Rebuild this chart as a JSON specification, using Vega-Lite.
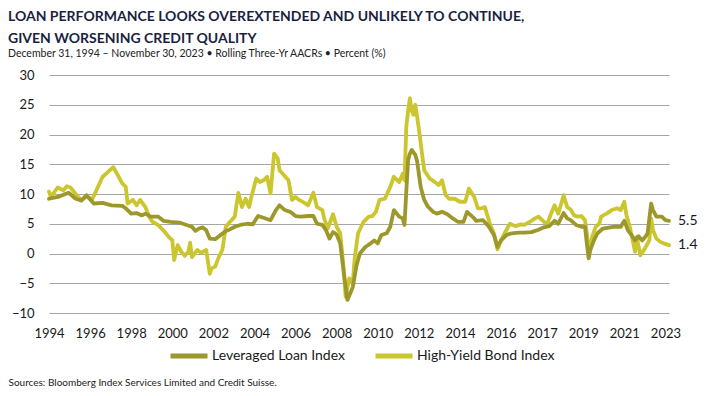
{
  "$schema": "https://vega.github.io/schema/vega-lite/v6.json",
  "width": 620,
  "height": 238,
  "autosize": {"type": "none"},
  "padding": {"left": 49, "top": 75, "right": 58, "bottom": 83},
  "background": "white",
  "config": {
    "view": {"stroke": null},
    "font": "Lato",
    "axis": {"labelFont": "Lato", "labelColor": "#1a1a1a", "titleFont": "Lato"},
    "legend": {"labelFont": "Lato"}
  },
  "title": {
    "text": ["LOAN PERFORMANCE LOOKS OVEREXTENDED AND UNLIKELY TO CONTINUE,", "GIVEN WORSENING CREDIT QUALITY"],
    "subtitle": "December 31, 1994 – November 30, 2023 • Rolling Three-Yr AACRs • Percent (%)",
    "anchor": "start",
    "frame": "group",
    "dx": -41,
    "offset": 10,
    "font": "Lato",
    "fontSize": 14,
    "fontWeight": "bold",
    "color": "#1b1f3f",
    "lineHeight": 22,
    "subtitleFont": "Lato",
    "subtitleFontSize": 10.5,
    "subtitleColor": "#222222",
    "subtitlePadding": 3
  },
  "datasets": {
    "hy": [
      {"date": "1994-12", "value": 10.4}, {"date": "1995-01", "value": 9.5}, {"date": "1995-05", "value": 11.1},
      {"date": "1995-08", "value": 10.6}, {"date": "1995-10", "value": 11.3}, {"date": "1995-12", "value": 11.1},
      {"date": "1996-03", "value": 10.0}, {"date": "1996-06", "value": 8.9}, {"date": "1996-09", "value": 9.6},
      {"date": "1996-12", "value": 9.0}, {"date": "1997-03", "value": 10.9}, {"date": "1997-06", "value": 12.9},
      {"date": "1997-08", "value": 13.4}, {"date": "1997-10", "value": 14.0}, {"date": "1997-12", "value": 14.5},
      {"date": "1998-02", "value": 13.4}, {"date": "1998-05", "value": 11.8}, {"date": "1998-07", "value": 11.2},
      {"date": "1998-08", "value": 8.4}, {"date": "1998-11", "value": 9.0}, {"date": "1999-01", "value": 8.1},
      {"date": "1999-03", "value": 9.0}, {"date": "1999-06", "value": 7.8}, {"date": "1999-08", "value": 6.2},
      {"date": "1999-10", "value": 5.3}, {"date": "2000-01", "value": 4.8}, {"date": "2000-04", "value": 3.9},
      {"date": "2000-07", "value": 2.8}, {"date": "2000-09", "value": 2.2}, {"date": "2000-10", "value": -1.1},
      {"date": "2000-12", "value": 1.4}, {"date": "2001-02", "value": 0.3}, {"date": "2001-04", "value": -0.4},
      {"date": "2001-06", "value": 0.3}, {"date": "2001-07", "value": 1.8}, {"date": "2001-08", "value": -0.6},
      {"date": "2001-11", "value": 0.6}, {"date": "2002-01", "value": 0.1}, {"date": "2002-04", "value": 0.6},
      {"date": "2002-06", "value": -3.4}, {"date": "2002-07", "value": -2.5}, {"date": "2002-09", "value": -2.2},
      {"date": "2002-11", "value": -0.6}, {"date": "2003-01", "value": 0.6}, {"date": "2003-03", "value": 4.5},
      {"date": "2003-05", "value": 5.2}, {"date": "2003-08", "value": 6.2}, {"date": "2003-10", "value": 10.2},
      {"date": "2003-12", "value": 7.8}, {"date": "2004-02", "value": 9.2}, {"date": "2004-04", "value": 7.8},
      {"date": "2004-05", "value": 9.2}, {"date": "2004-08", "value": 12.6}, {"date": "2004-10", "value": 12.0},
      {"date": "2004-12", "value": 12.3}, {"date": "2005-02", "value": 12.9}, {"date": "2005-04", "value": 10.1},
      {"date": "2005-06", "value": 16.8}, {"date": "2005-08", "value": 16.0}, {"date": "2005-09", "value": 14.0},
      {"date": "2005-12", "value": 13.0}, {"date": "2006-02", "value": 12.3}, {"date": "2006-04", "value": 9.0},
      {"date": "2006-06", "value": 9.5}, {"date": "2006-08", "value": 9.0}, {"date": "2006-11", "value": 8.5},
      {"date": "2007-01", "value": 8.1}, {"date": "2007-04", "value": 10.2}, {"date": "2007-06", "value": 7.8},
      {"date": "2007-09", "value": 7.3}, {"date": "2007-10", "value": 5.9}, {"date": "2007-12", "value": 4.2},
      {"date": "2008-03", "value": 6.6}, {"date": "2008-05", "value": 4.5}, {"date": "2008-07", "value": 3.4},
      {"date": "2008-09", "value": -2.8}, {"date": "2008-10", "value": -7.3}, {"date": "2008-12", "value": -4.2},
      {"date": "2009-02", "value": -5.0}, {"date": "2009-03", "value": -1.1}, {"date": "2009-05", "value": 3.4},
      {"date": "2009-08", "value": 5.3}, {"date": "2009-11", "value": 6.2}, {"date": "2010-01", "value": 6.3},
      {"date": "2010-03", "value": 7.0}, {"date": "2010-05", "value": 9.0}, {"date": "2010-08", "value": 9.2},
      {"date": "2010-11", "value": 11.2}, {"date": "2011-01", "value": 12.9}, {"date": "2011-04", "value": 12.0},
      {"date": "2011-06", "value": 13.4}, {"date": "2011-07", "value": 12.3}, {"date": "2011-08", "value": 21.3},
      {"date": "2011-09", "value": 24.0}, {"date": "2011-10", "value": 26.1}, {"date": "2011-11", "value": 24.0},
      {"date": "2011-12", "value": 23.3}, {"date": "2012-01", "value": 25.0}, {"date": "2012-03", "value": 21.0},
      {"date": "2012-05", "value": 16.3}, {"date": "2012-06", "value": 14.0}, {"date": "2012-09", "value": 12.6},
      {"date": "2012-12", "value": 12.0}, {"date": "2013-02", "value": 11.5}, {"date": "2013-04", "value": 12.3},
      {"date": "2013-06", "value": 9.8}, {"date": "2013-08", "value": 9.2}, {"date": "2013-11", "value": 9.2},
      {"date": "2014-02", "value": 8.7}, {"date": "2014-05", "value": 8.7}, {"date": "2014-07", "value": 10.9},
      {"date": "2014-10", "value": 9.5}, {"date": "2014-12", "value": 7.6}, {"date": "2015-02", "value": 7.6},
      {"date": "2015-04", "value": 7.8}, {"date": "2015-07", "value": 4.8}, {"date": "2015-09", "value": 3.4},
      {"date": "2015-11", "value": 0.7}, {"date": "2016-01", "value": 2.2}, {"date": "2016-03", "value": 3.4},
      {"date": "2016-06", "value": 5.0}, {"date": "2016-09", "value": 4.6}, {"date": "2016-12", "value": 4.9},
      {"date": "2017-02", "value": 4.8}, {"date": "2017-05", "value": 5.3}, {"date": "2017-08", "value": 5.9},
      {"date": "2017-10", "value": 6.2}, {"date": "2018-01", "value": 5.3}, {"date": "2018-03", "value": 5.0},
      {"date": "2018-05", "value": 6.7}, {"date": "2018-07", "value": 8.1}, {"date": "2018-09", "value": 6.7},
      {"date": "2018-11", "value": 8.7}, {"date": "2018-12", "value": 9.8}, {"date": "2019-02", "value": 7.8},
      {"date": "2019-04", "value": 7.4}, {"date": "2019-06", "value": 6.4}, {"date": "2019-08", "value": 6.2},
      {"date": "2019-10", "value": 6.3}, {"date": "2019-12", "value": 5.6}, {"date": "2020-01", "value": 3.4},
      {"date": "2020-02", "value": 0.3}, {"date": "2020-04", "value": 2.8}, {"date": "2020-06", "value": 4.5},
      {"date": "2020-08", "value": 5.0}, {"date": "2020-09", "value": 6.2}, {"date": "2020-12", "value": 6.7},
      {"date": "2021-03", "value": 7.3}, {"date": "2021-06", "value": 7.6}, {"date": "2021-08", "value": 7.3},
      {"date": "2021-10", "value": 8.7}, {"date": "2021-11", "value": 6.7}, {"date": "2022-01", "value": 4.5},
      {"date": "2022-02", "value": 3.1}, {"date": "2022-04", "value": 0.3}, {"date": "2022-05", "value": 2.8},
      {"date": "2022-07", "value": -0.3}, {"date": "2022-09", "value": 0.6}, {"date": "2022-10", "value": 1.1},
      {"date": "2022-12", "value": 2.2}, {"date": "2023-01", "value": 5.9}, {"date": "2023-02", "value": 3.9},
      {"date": "2023-04", "value": 2.5}, {"date": "2023-06", "value": 2.0}, {"date": "2023-08", "value": 1.7},
      {"date": "2023-11", "value": 1.4}
    ],
    "loan": [
      {"date": "1994-12", "value": 9.2}, {"date": "1995-05", "value": 9.5}, {"date": "1995-11", "value": 10.2},
      {"date": "1996-03", "value": 9.2}, {"date": "1996-06", "value": 8.9}, {"date": "1996-09", "value": 9.8},
      {"date": "1997-01", "value": 8.4}, {"date": "1997-06", "value": 8.5}, {"date": "1997-11", "value": 8.1},
      {"date": "1998-05", "value": 8.0}, {"date": "1998-07", "value": 7.6}, {"date": "1998-10", "value": 6.7},
      {"date": "1999-01", "value": 6.8}, {"date": "1999-04", "value": 6.4}, {"date": "1999-06", "value": 6.7},
      {"date": "1999-09", "value": 6.2}, {"date": "2000-01", "value": 6.2}, {"date": "2000-04", "value": 5.5},
      {"date": "2000-08", "value": 5.3}, {"date": "2001-01", "value": 5.2}, {"date": "2001-05", "value": 4.8},
      {"date": "2001-08", "value": 4.5}, {"date": "2001-10", "value": 3.8}, {"date": "2001-12", "value": 4.2},
      {"date": "2002-02", "value": 4.4}, {"date": "2002-04", "value": 3.9}, {"date": "2002-06", "value": 2.5},
      {"date": "2002-09", "value": 2.4}, {"date": "2002-12", "value": 3.1}, {"date": "2003-03", "value": 3.8},
      {"date": "2003-05", "value": 4.0}, {"date": "2003-08", "value": 4.5}, {"date": "2003-11", "value": 4.8},
      {"date": "2004-03", "value": 5.0}, {"date": "2004-06", "value": 4.9}, {"date": "2004-09", "value": 6.3},
      {"date": "2004-12", "value": 6.0}, {"date": "2005-04", "value": 5.6}, {"date": "2005-07", "value": 7.3},
      {"date": "2005-09", "value": 8.1}, {"date": "2005-12", "value": 7.3}, {"date": "2006-03", "value": 7.0},
      {"date": "2006-06", "value": 6.3}, {"date": "2006-09", "value": 6.2}, {"date": "2007-01", "value": 6.3},
      {"date": "2007-04", "value": 6.3}, {"date": "2007-06", "value": 5.0}, {"date": "2007-09", "value": 4.8},
      {"date": "2007-11", "value": 3.9}, {"date": "2008-01", "value": 2.5}, {"date": "2008-03", "value": 3.6},
      {"date": "2008-05", "value": 3.2}, {"date": "2008-07", "value": 1.7}, {"date": "2008-09", "value": -3.4},
      {"date": "2008-11", "value": -7.8}, {"date": "2009-01", "value": -6.4}, {"date": "2009-02", "value": -5.6},
      {"date": "2009-04", "value": -2.2}, {"date": "2009-06", "value": 0.0}, {"date": "2009-09", "value": 1.1},
      {"date": "2009-12", "value": 1.7}, {"date": "2010-02", "value": 2.2}, {"date": "2010-04", "value": 1.7},
      {"date": "2010-06", "value": 3.1}, {"date": "2010-09", "value": 3.4}, {"date": "2010-11", "value": 4.5},
      {"date": "2011-01", "value": 7.3}, {"date": "2011-04", "value": 6.2}, {"date": "2011-06", "value": 5.9},
      {"date": "2011-07", "value": 4.8}, {"date": "2011-08", "value": 10.5}, {"date": "2011-09", "value": 15.7},
      {"date": "2011-10", "value": 16.8}, {"date": "2011-11", "value": 17.4}, {"date": "2011-12", "value": 17.0},
      {"date": "2012-01", "value": 16.6}, {"date": "2012-02", "value": 15.5}, {"date": "2012-04", "value": 11.2},
      {"date": "2012-06", "value": 9.0}, {"date": "2012-08", "value": 7.9}, {"date": "2012-11", "value": 7.0},
      {"date": "2013-01", "value": 6.7}, {"date": "2013-04", "value": 7.0}, {"date": "2013-07", "value": 6.6},
      {"date": "2013-10", "value": 5.9}, {"date": "2014-01", "value": 5.3}, {"date": "2014-04", "value": 5.3},
      {"date": "2014-06", "value": 7.0}, {"date": "2014-10", "value": 5.9}, {"date": "2014-11", "value": 5.5},
      {"date": "2015-03", "value": 5.6}, {"date": "2015-06", "value": 4.6}, {"date": "2015-09", "value": 3.1},
      {"date": "2015-11", "value": 1.1}, {"date": "2016-01", "value": 2.2}, {"date": "2016-04", "value": 3.1},
      {"date": "2016-07", "value": 3.4}, {"date": "2016-11", "value": 3.5}, {"date": "2017-02", "value": 3.5},
      {"date": "2017-06", "value": 3.6}, {"date": "2017-10", "value": 4.0}, {"date": "2018-01", "value": 4.4},
      {"date": "2018-04", "value": 4.6}, {"date": "2018-07", "value": 5.5}, {"date": "2018-09", "value": 5.0},
      {"date": "2018-12", "value": 6.8}, {"date": "2019-02", "value": 5.9}, {"date": "2019-04", "value": 5.6},
      {"date": "2019-07", "value": 4.8}, {"date": "2019-10", "value": 4.5}, {"date": "2019-12", "value": 4.5},
      {"date": "2020-01", "value": 1.7}, {"date": "2020-02", "value": -0.8}, {"date": "2020-03", "value": 0.6},
      {"date": "2020-05", "value": 2.2}, {"date": "2020-07", "value": 3.4}, {"date": "2020-10", "value": 4.2},
      {"date": "2021-02", "value": 4.4}, {"date": "2021-05", "value": 4.5}, {"date": "2021-08", "value": 4.5},
      {"date": "2021-10", "value": 5.5}, {"date": "2021-12", "value": 3.9}, {"date": "2022-02", "value": 3.1},
      {"date": "2022-04", "value": 2.2}, {"date": "2022-06", "value": 2.9}, {"date": "2022-08", "value": 2.2},
      {"date": "2022-10", "value": 2.9}, {"date": "2022-11", "value": 3.4}, {"date": "2023-01", "value": 8.4},
      {"date": "2023-02", "value": 7.3}, {"date": "2023-04", "value": 6.2}, {"date": "2023-07", "value": 6.2},
      {"date": "2023-09", "value": 5.6}, {"date": "2023-11", "value": 5.5}
    ]
  },
  "encoding": {
    "x": {
      "field": "date",
      "type": "temporal",
      "scale": {"domain": [{"year": 1994, "month": 12, "date": 1}, {"year": 2023, "month": 11, "date": 1}]},
      "axis": {
        "values": [
          {"year": 1994, "month": 12, "date": 1}, {"year": 1996, "month": 11, "date": 1}, {"year": 1998, "month": 10, "date": 1},
          {"year": 2000, "month": 9, "date": 1}, {"year": 2002, "month": 8, "date": 1}, {"year": 2004, "month": 7, "date": 1},
          {"year": 2006, "month": 6, "date": 1}, {"year": 2008, "month": 5, "date": 1}, {"year": 2010, "month": 4, "date": 1},
          {"year": 2012, "month": 3, "date": 1}, {"year": 2014, "month": 2, "date": 1}, {"year": 2016, "month": 1, "date": 1},
          {"year": 2017, "month": 12, "date": 1}, {"year": 2019, "month": 11, "date": 1}, {"year": 2021, "month": 10, "date": 1},
          {"year": 2023, "month": 9, "date": 1}
        ],
        "format": "%Y",
        "labelFontSize": 13,
        "labelFlush": false,
        "labelOverlap": false,
        "labelPadding": 14,
        "ticks": false,
        "domain": false,
        "grid": false,
        "title": "Sources: Bloomberg Index Services Limited and Credit Suisse.",
        "titleFontSize": 10,
        "titleFontWeight": "normal",
        "titleColor": "#1a1a1a",
        "titleAnchor": "start",
        "titleAlign": "left",
        "titleBaseline": "alphabetic",
        "titleX": -41,
        "titleY": 72
      }
    },
    "y": {
      "field": "value",
      "type": "quantitative",
      "scale": {"domain": [-10, 30], "nice": false},
      "axis": {
        "values": [-10, -5, 0, 5, 10, 15, 20, 25, 30],
        "labelFontSize": 13,
        "labelPadding": 15,
        "ticks": false,
        "domain": false,
        "gridColor": "#a6a6a6",
        "gridWidth": 1,
        "title": null
      }
    }
  },
  "layer": [
    {
      "data": {"name": "hy"},
      "mark": {"type": "line", "strokeWidth": 3.8, "strokeJoin": "round", "strokeCap": "round"},
      "encoding": {
        "color": {
          "datum": "High-Yield Bond Index",
          "type": "nominal",
          "scale": {"domain": ["Leveraged Loan Index", "High-Yield Bond Index"], "range": ["#9c982c", "#cbc52e"]},
          "legend": {
            "title": null,
            "orient": "none",
            "direction": "horizontal",
            "legendX": 119,
            "legendY": 260,
            "symbolType": "stroke",
            "symbolSize": 1369,
            "symbolStrokeWidth": 5,
            "labelFontSize": 14,
            "labelColor": "#1a1a1a",
            "labelOffset": 2,
            "columnPadding": 20
          }
        }
      }
    },
    {
      "data": {"name": "loan"},
      "mark": {"type": "line", "strokeWidth": 3.8, "strokeJoin": "round", "strokeCap": "round"},
      "encoding": {"color": {"datum": "Leveraged Loan Index", "type": "nominal"}}
    },
    {
      "data": {"name": "loan"},
      "transform": [
        {"joinaggregate": [{"op": "max", "field": "date", "as": "maxd"}]},
        {"filter": "+datum.date === +datum.maxd"}
      ],
      "mark": {"type": "text", "align": "left", "baseline": "middle", "dx": 9, "fontSize": 14, "color": "#1a1a1a"},
      "encoding": {"text": {"field": "value", "type": "quantitative", "format": ".1f"}}
    },
    {
      "data": {"name": "hy"},
      "transform": [
        {"joinaggregate": [{"op": "max", "field": "date", "as": "maxd"}]},
        {"filter": "+datum.date === +datum.maxd"}
      ],
      "mark": {"type": "text", "align": "left", "baseline": "middle", "dx": 9, "fontSize": 14, "color": "#1a1a1a"},
      "encoding": {"text": {"field": "value", "type": "quantitative", "format": ".1f"}}
    }
  ]
}
